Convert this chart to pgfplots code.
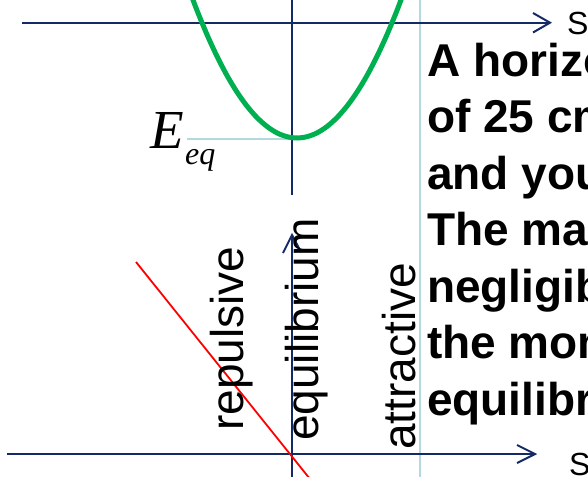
\documentclass[border=0pt]{standalone}
\usepackage{pgfplots}
\pgfplotsset{compat=1.18}
\usepackage{fontspec}
\setmainfont{Liberation Sans}
\newfontfamily\timesfont{Liberation Serif}
\definecolor{navy}{RGB}{20,42,102}
\definecolor{lightteal}{RGB}{178,218,222}
\definecolor{pgreen}{RGB}{0,176,80}
\begin{document}
\begin{tikzpicture}
\begin{axis}[
  at={(0,0)}, anchor=south west,
  scale only axis, width=588pt, height=476pt,
  xmin=0, xmax=588, ymin=0, ymax=476, y dir=reverse,
  hide axis, clip=false,
]
\coordinate (P1) at (axis cs:0,0);
\coordinate (P2) at (axis cs:588,476);
% light teal helper lines
\addplot[lightteal, line width=2.5pt] coordinates {(420,-5) (420,481)};
\addplot[lightteal, line width=2.5pt] coordinates {(187,139) (293,139)};
% top axes
\addplot[navy, line width=2pt] coordinates {(22,22.7) (550,22.7)};
\addplot[navy, line width=2pt] coordinates {(533,13) (550,22.7) (533,32.5)};
\addplot[navy, line width=2pt] coordinates {(292,-5) (292,195)};
% potential energy parabola
\addplot[pgreen, line width=5pt, smooth] coordinates {
 (189,-10.8) (197,10.4) (207,34.6) (217,56.3) (227,75.5) (237,92.1)
 (247,106.1) (257,117.6) (267,126.5) (277,132.9) (287,136.7) (297,138)
 (307,136.7) (317,132.9) (327,126.5) (337,117.6) (347,106.1) (357,92.1)
 (367,75.5) (377,56.3) (387,34.6) (397,10.4) (405,-10.8)};
% bottom axes
\addplot[navy, line width=2pt] coordinates {(7,454) (535,454)};
\addplot[navy, line width=2pt] coordinates {(517,445) (535,454) (517,463)};
\addplot[navy, line width=2pt] coordinates {(292,235) (292,481)};
\addplot[navy, line width=2pt] coordinates {(283,253) (292,235) (301,252)};
% force line
\addplot[red, line width=1.8pt] coordinates {(136,262) (310,479)};
% labels
\node[anchor=base west, inner sep=0pt, font=\timesfont\itshape\fontsize{55}{60}\selectfont] at (axis cs:150,148) {E};
\node[anchor=base west, inner sep=0pt, font=\timesfont\itshape\fontsize{32}{36}\selectfont] at (axis cs:185,164) {eq};
\node[anchor=base west, inner sep=0pt, font=\fontsize{32}{36}\selectfont] at (axis cs:567,35) {S};
\node[anchor=base west, inner sep=0pt, font=\fontsize{32}{36}\selectfont] at (axis cs:569,475) {S};
\node[rotate=90, anchor=base west, inner sep=0pt, font=\fontsize{46}{50}\selectfont] at (axis cs:243,431) {repulsive};
\node[rotate=90, anchor=base west, inner sep=0pt, font=\fontsize{46}{50}\selectfont] at (axis cs:318,441) {equilibrium};
\node[rotate=90, anchor=base west, inner sep=0pt, font=\fontsize{46}{50}\selectfont] at (axis cs:415,450) {attractive};
\node[anchor=base west, inner sep=0pt, font=\bfseries\fontsize{46}{50}\selectfont] at (axis cs:427,76) {A horizontal};
\node[anchor=base west, inner sep=0pt, font=\bfseries\fontsize{46}{50}\selectfont] at (axis cs:427,132.5) {of 25 cm};
\node[anchor=base west, inner sep=0pt, font=\bfseries\fontsize{46}{50}\selectfont] at (axis cs:427,189) {and your};
\node[anchor=base west, inner sep=0pt, font=\bfseries\fontsize{46}{50}\selectfont] at (axis cs:427,245.5) {The mass};
\node[anchor=base west, inner sep=0pt, font=\bfseries\fontsize{46}{50}\selectfont] at (axis cs:427,302) {negligible};
\node[anchor=base west, inner sep=0pt, font=\bfseries\fontsize{46}{50}\selectfont] at (axis cs:427,358.5) {the moment};
\node[anchor=base west, inner sep=0pt, font=\bfseries\fontsize{46}{50}\selectfont] at (axis cs:427,415) {equilibrium};
\end{axis}
\pgfresetboundingbox
\path[use as bounding box] (P1) rectangle (P2);
\end{tikzpicture}
\end{document}
